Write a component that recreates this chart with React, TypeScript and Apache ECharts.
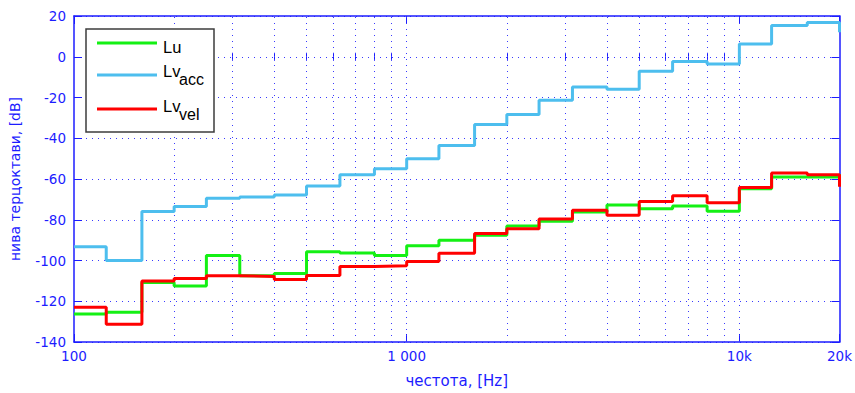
import React, { useEffect, useRef } from "react";
import * as echarts from "echarts";

// Third-octave band centre frequencies, Hz
const freqs = [100, 125, 160, 200, 250, 315, 400, 500, 630, 800, 1000, 1250, 1600, 2000, 2500, 3150, 4000, 5000, 6300, 8000, 10000, 12500, 16000, 20000];

// Levels, dB
const lu = [-126.2, -125.4, -110.8, -112.5, -97.6, -107.5, -106.4, -95.7, -96.3, -97.6, -92.8, -90, -87.6, -83.1, -80.7, -76.2, -72.7, -74.6, -73.2, -75.8, -64.8, -59, -59, -57.5];
const lvAcc = [-93.3, -100, -76, -73.5, -69.5, -68.8, -67.9, -63.4, -57.9, -55, -50, -43.6, -33.2, -28.3, -21.3, -14.9, -16, -7.1, -2.3, -3.5, 6.3, 15.3, 16.8, 12];
const lvVel = [-123, -131.3, -110.1, -108.8, -107.5, -107.8, -109.3, -107.4, -102.9, -102.6, -100.5, -96.5, -86.7, -84.4, -79.6, -75.3, -77.8, -71.1, -68.2, -71.6, -64.2, -57, -57.9, -63.8];

// Axis ticks
const majorTickFreqs = [100, 1000, 10000, 20000];
const majorTickLabels = ["100", "1 000", "10k", "20k"];
const minorTickFreqs = [200, 300, 400, 500, 600, 700, 800, 900, 2000, 3000, 4000, 5000, 6000, 7000, 8000, 9000];
const gridFreqs = [200, 300, 400, 500, 600, 700, 800, 900, 1000, 2000, 3000, 4000, 5000, 6000, 7000, 8000, 9000, 10000];

const seriesNames = ["Lu", "Lv_acc", "Lv_vel"];
const legendMain = ["Lu", "Lv", "Lv"];
const legendSub = ["", "acc", "vel"];

const BLUE = "#1c1cff";
const GRID_BLUE = "#3a3aff";
const COLORS = ["#14f014", "#4dbeee", "#ff0000"];
const FONT = "DejaVu Sans";
const LEG_FONT = "Liberation Sans";

export default function App() {
  const ref = useRef<HTMLDivElement>(null);

  useEffect(() => {
    if (!ref.current) return;
    const chart = echarts.init(ref.current, null, { renderer: "svg" });

    const labelFor = (v: number) => {
      const i = majorTickFreqs.findIndex((f) => Math.abs(f - v) < 1e-6 * f);
      return i >= 0 ? majorTickLabels[i] : "";
    };

    const xBase = {
      type: "log" as const,
      logBase: 10,
      min: 100,
      max: 20000,
      splitLine: { show: false },
      minorTick: { show: false },
      minorSplitLine: { show: false },
    };

    const allSeries = [lu, lvAcc, lvVel];
    const lineSeries: any[] = allSeries.map((vals, k) => ({
      name: seriesNames[k],
      type: "line",
      step: "end",
      showSymbol: false,
      symbol: "none",
      z: 3 + k,
      lineStyle: { color: COLORS[k], width: 3 },
      itemStyle: { color: COLORS[k] },
      data: freqs.map((f, i) => [f, vals[i]]),
    }));

    const gridSeries = {
      name: "grid",
      type: "line",
      data: [[100, -200]],
      showSymbol: false,
      symbol: "none",
      lineStyle: { opacity: 0 },
      z: 1,
      markLine: {
        silent: true,
        z: 1,
        symbol: ["none", "none"],
        label: { show: false },
        lineStyle: { color: GRID_BLUE, type: [1, 5], width: 1 },
        emphasis: { disabled: true },
        data: gridFreqs.map((f) => ({ xAxis: f })),
      },
    };

    const legendGraphics: any[] = [
      {
        type: "rect",
        shape: { x: 86, y: 29, width: 128, height: 103 },
        style: { fill: "#ffffff", stroke: "#3c3c3c", lineWidth: 1.5 },
        z: 100,
      },
    ];
    const rowLineY = [43, 75, 109];
    const rowBase = [52.3, 76.7, 111.7];
    legendMain.forEach((t, k) => {
      legendGraphics.push({
        type: "line",
        shape: { x1: 97, y1: rowLineY[k], x2: 157, y2: rowLineY[k] },
        style: { stroke: COLORS[k], lineWidth: 3 },
        z: 101,
      });
      legendGraphics.push({
        type: "text",
        x: 163,
        y: rowBase[k] - 5.7,
        style: { text: t, fontSize: 16.5, fontFamily: LEG_FONT, fill: "#000", verticalAlign: "middle", align: "left" },
        z: 101,
      });
      if (legendSub[k]) {
        legendGraphics.push({
          type: "text",
          x: 179,
          y: rowBase[k] + 8.5 - 5.7,
          style: { text: legendSub[k], fontSize: 16, fontFamily: LEG_FONT, fill: "#000", verticalAlign: "middle", align: "left" },
          z: 101,
        });
      }
    });

    chart.setOption({
      animation: false,
      backgroundColor: "#ffffff",
      grid: { left: 73, right: 13, top: 16, bottom: 45, containLabel: false },
      xAxis: [
        {
          ...xBase,
          position: "bottom",
          axisLine: { show: true, onZero: false, lineStyle: { color: BLUE, width: 1.5 } },
          axisTick: { show: true, inside: true, length: 8, customValues: majorTickFreqs, lineStyle: { color: BLUE, width: 1 } },
          axisLabel: {
            show: true,
            customValues: majorTickFreqs,
            formatter: (v: number) => labelFor(v),
            color: BLUE,
            fontFamily: FONT,
            fontSize: 13.5,
            margin: 7,
          },
          name: "честота, [Hz]",
          nameLocation: "middle",
          nameGap: 31,
          nameTextStyle: { color: BLUE, fontFamily: FONT, fontSize: 15 },
        },
        {
          ...xBase,
          position: "bottom",
          axisLine: { show: false },
          axisTick: { show: true, inside: true, length: 4, customValues: minorTickFreqs, lineStyle: { color: BLUE, width: 1 } },
          axisLabel: { show: false },
        },
        {
          ...xBase,
          position: "top",
          axisLine: { show: true, onZero: false, lineStyle: { color: BLUE, width: 1.5 } },
          axisTick: { show: true, inside: true, length: 8, customValues: majorTickFreqs, lineStyle: { color: BLUE, width: 1 } },
          axisLabel: { show: false },
        },
        {
          ...xBase,
          position: "top",
          axisLine: { show: false },
          axisTick: { show: true, inside: true, length: 4, customValues: minorTickFreqs, lineStyle: { color: BLUE, width: 1 } },
          axisLabel: { show: false },
        },
      ],
      yAxis: [
        {
          type: "value",
          min: -140,
          max: 20,
          interval: 20,
          position: "left",
          axisLine: { show: true, onZero: false, lineStyle: { color: BLUE, width: 1.5 } },
          axisTick: { show: true, inside: true, length: 8, lineStyle: { color: BLUE, width: 1 } },
          axisLabel: { color: BLUE, fontFamily: FONT, fontSize: 13.5, margin: 8 },
          splitLine: { show: true, lineStyle: { color: GRID_BLUE, type: [1, 5], width: 1 } },
          name: "нива терцоктави, [dB]",
          nameLocation: "middle",
          nameGap: 52,
          nameTextStyle: { color: BLUE, fontFamily: FONT, fontSize: 14 },
        },
        {
          type: "value",
          min: -140,
          max: 20,
          interval: 20,
          position: "right",
          axisLine: { show: true, onZero: false, lineStyle: { color: BLUE, width: 1.5 } },
          axisTick: { show: true, inside: true, length: 8, lineStyle: { color: BLUE, width: 1 } },
          axisLabel: { show: false },
          splitLine: { show: false },
        },
      ],
      series: [gridSeries, ...lineSeries],
      graphic: legendGraphics,
    });

    return () => chart.dispose();
  }, []);

  return (
    <div
      ref={ref}
      style={{ position: "fixed", left: 0, top: 0, width: 855, height: 393, background: "#fff" }}
    />
  );
}
